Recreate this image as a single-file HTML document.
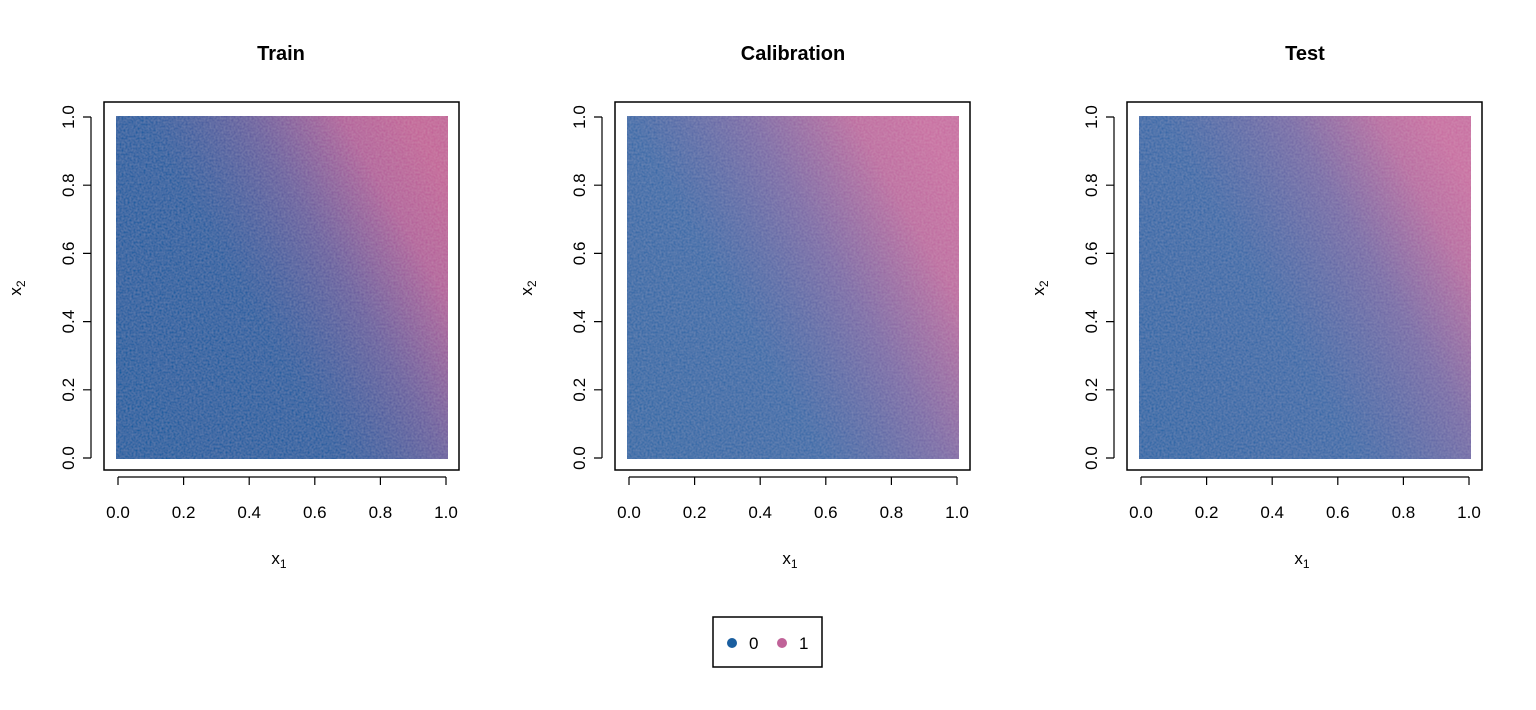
<!DOCTYPE html>
<html><head><style>body{margin:0;background:#fff}svg{display:block}text{font-family:"Liberation Sans",Arial,sans-serif;fill:#000}</style></head><body>
<svg width="1536" height="710" viewBox="0 0 1536 710" xmlns="http://www.w3.org/2000/svg">
<defs>
<linearGradient id="gT" x1="0" y1="0.8" x2="1" y2="0.2">
<stop offset="0" stop-color="#175c9f"/><stop offset="0.4" stop-color="#225da0"/><stop offset="0.65" stop-color="#6a5e9e"/><stop offset="0.85" stop-color="#b2619a"/><stop offset="1" stop-color="#c26497"/>
</linearGradient>
<linearGradient id="gC" x1="0" y1="0.8" x2="1" y2="0.2">
<stop offset="0" stop-color="#2f68a6"/><stop offset="0.35" stop-color="#3a6aa8"/><stop offset="0.62" stop-color="#7c6aa6"/><stop offset="0.85" stop-color="#bd6ca0"/><stop offset="1" stop-color="#c86ea1"/>
</linearGradient>
<linearGradient id="gX" x1="0" y1="0.8" x2="1" y2="0.2">
<stop offset="0" stop-color="#2c66a6"/><stop offset="0.4" stop-color="#3a69a8"/><stop offset="0.68" stop-color="#786aa6"/><stop offset="0.88" stop-color="#b86ca1"/><stop offset="1" stop-color="#c86ea1"/>
</linearGradient>
<filter id="n" x="0" y="0" width="1" height="1"><feTurbulence type="fractalNoise" baseFrequency="0.5" numOctaves="1" seed="3"/><feColorMatrix values="0 0 0 0 1 0 0 0 0 1 0 0 0 0 1 0 0 0 0.15 -0.03"/><feComposite in2="SourceGraphic" operator="in"/><feBlend in2="SourceGraphic" mode="normal"/></filter>
</defs>
<g>
<text x="281" y="60" font-size="20" font-weight="bold" text-anchor="middle">Train</text>
<rect x="116" y="116" width="332" height="343" fill="url(#gT)" filter="url(#n)"/>
<rect x="104" y="102" width="355" height="368" fill="none" stroke="#000" stroke-width="1.5"/>
</g>
<g>
<text x="793" y="60" font-size="20" font-weight="bold" text-anchor="middle">Calibration</text>
<rect x="627" y="116" width="332" height="343" fill="url(#gC)" filter="url(#n)"/>
<rect x="615" y="102" width="355" height="368" fill="none" stroke="#000" stroke-width="1.5"/>
</g>
<g>
<text x="1305" y="60" font-size="20" font-weight="bold" text-anchor="middle">Test</text>
<rect x="1139" y="116" width="332" height="343" fill="url(#gX)" filter="url(#n)"/>
<rect x="1127" y="102" width="355" height="368" fill="none" stroke="#000" stroke-width="1.5"/>
</g>
<g stroke="#000" stroke-width="1.2" fill="none">
<path d="M118 477H446M118 477v8M183.6 477v8M249.2 477v8M314.8 477v8M380.4 477v8M446 477v8"/>
<path d="M91 458V117M91 458h-8M91 389.8h-8M91 321.6h-8M91 253.4h-8M91 185.2h-8M91 117h-8"/>
<path d="M629 477H957M629 477v8M694.6 477v8M760.2 477v8M825.8 477v8M891.4 477v8M957 477v8"/>
<path d="M602 458V117M602 458h-8M602 389.8h-8M602 321.6h-8M602 253.4h-8M602 185.2h-8M602 117h-8"/>
<path d="M1141 477H1469M1141 477v8M1206.6 477v8M1272.2 477v8M1337.8 477v8M1403.4 477v8M1469 477v8"/>
<path d="M1114 458V117M1114 458h-8M1114 389.8h-8M1114 321.6h-8M1114 253.4h-8M1114 185.2h-8M1114 117h-8"/>
</g>
<g font-size="17" text-anchor="middle">
<text x="118" y="518">0.0</text><text x="183.6" y="518">0.2</text><text x="249.2" y="518">0.4</text><text x="314.8" y="518">0.6</text><text x="380.4" y="518">0.8</text><text x="446" y="518">1.0</text>
<text x="629" y="518">0.0</text><text x="694.6" y="518">0.2</text><text x="760.2" y="518">0.4</text><text x="825.8" y="518">0.6</text><text x="891.4" y="518">0.8</text><text x="957" y="518">1.0</text>
<text x="1141" y="518">0.0</text><text x="1206.6" y="518">0.2</text><text x="1272.2" y="518">0.4</text><text x="1337.8" y="518">0.6</text><text x="1403.4" y="518">0.8</text><text x="1469" y="518">1.0</text>
<g transform="translate(74 0)"><text transform="translate(0 458) rotate(-90)">0.0</text><text transform="translate(0 389.8) rotate(-90)">0.2</text><text transform="translate(0 321.6) rotate(-90)">0.4</text><text transform="translate(0 253.4) rotate(-90)">0.6</text><text transform="translate(0 185.2) rotate(-90)">0.8</text><text transform="translate(0 117) rotate(-90)">1.0</text></g>
<g transform="translate(585 0)"><text transform="translate(0 458) rotate(-90)">0.0</text><text transform="translate(0 389.8) rotate(-90)">0.2</text><text transform="translate(0 321.6) rotate(-90)">0.4</text><text transform="translate(0 253.4) rotate(-90)">0.6</text><text transform="translate(0 185.2) rotate(-90)">0.8</text><text transform="translate(0 117) rotate(-90)">1.0</text></g>
<g transform="translate(1097 0)"><text transform="translate(0 458) rotate(-90)">0.0</text><text transform="translate(0 389.8) rotate(-90)">0.2</text><text transform="translate(0 321.6) rotate(-90)">0.4</text><text transform="translate(0 253.4) rotate(-90)">0.6</text><text transform="translate(0 185.2) rotate(-90)">0.8</text><text transform="translate(0 117) rotate(-90)">1.0</text></g>
<text x="279" y="564">x<tspan font-size="12" dy="4">1</tspan></text>
<text x="790" y="564">x<tspan font-size="12" dy="4">1</tspan></text>
<text x="1302" y="564">x<tspan font-size="12" dy="4">1</tspan></text>
<text transform="translate(21 288) rotate(-90)">x<tspan font-size="12" dy="4">2</tspan></text>
<text transform="translate(532 288) rotate(-90)">x<tspan font-size="12" dy="4">2</tspan></text>
<text transform="translate(1044 288) rotate(-90)">x<tspan font-size="12" dy="4">2</tspan></text>
</g>
<rect x="713" y="617" width="109" height="50" fill="none" stroke="#000" stroke-width="1.5"/>
<circle cx="732" cy="643" r="5" fill="#1a5e9f"/><text x="749" y="649" font-size="17">0</text>
<circle cx="782" cy="643" r="5" fill="#c06298"/><text x="799" y="649" font-size="17">1</text>
</svg>
</body></html>
